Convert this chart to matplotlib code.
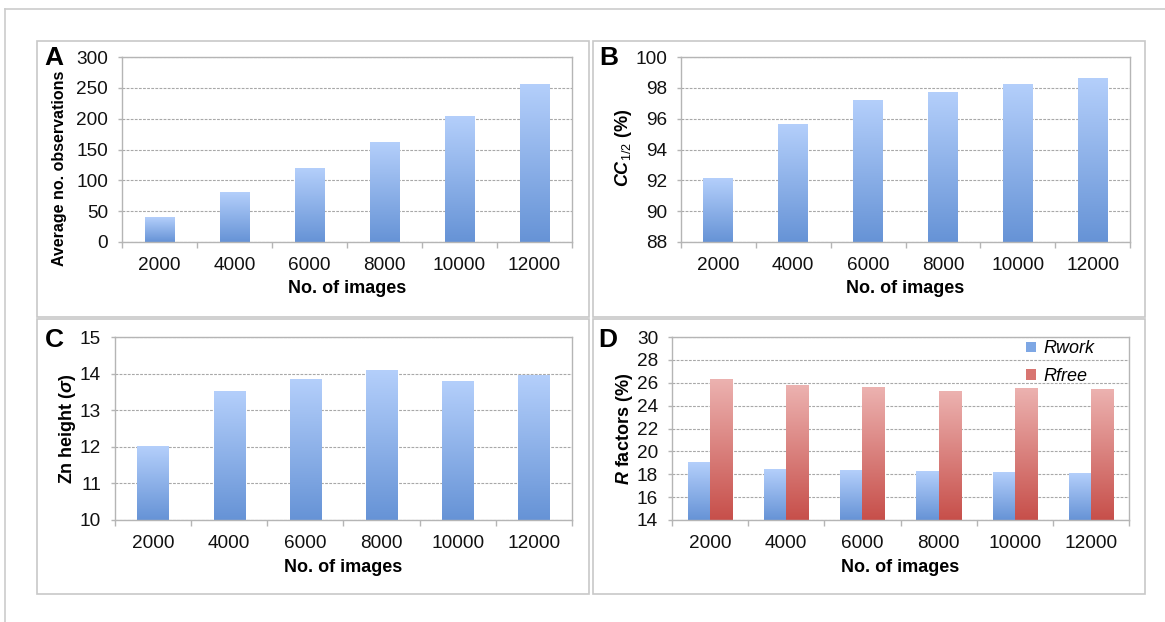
import numpy as np
import matplotlib
matplotlib.use("Agg")
import matplotlib.pyplot as plt
from matplotlib.colors import LinearSegmentedColormap
from matplotlib.patches import Rectangle
from matplotlib.lines import Line2D

plt.rcParams['font.family'] = ['Liberation Sans', 'DejaVu Sans']
plt.rcParams['mathtext.fontset'] = 'custom'
plt.rcParams['mathtext.rm'] = 'Liberation Sans'
plt.rcParams['mathtext.it'] = 'Liberation Sans:italic'
plt.rcParams['mathtext.bf'] = 'Liberation Sans:bold'
try:
    plt.rcParams['mathtext.bfit'] = 'Liberation Sans:bold:italic'
except Exception:
    pass

# ---------------- data ----------------
images = ['2000', '4000', '6000', '8000', '10000', '12000']
avg_observations = [40, 80, 120, 161, 203, 256]
cc_half = [92.1, 95.63, 97.2, 97.72, 98.22, 98.63]
zn_height = [12.0, 13.5, 13.85, 14.09, 13.79, 13.95]
r_work = [19.05, 18.45, 18.3, 18.2, 18.12, 18.1]
r_free = [26.3, 25.8, 25.6, 25.2, 25.5, 25.4]

W, H = 1165, 622
fig = plt.figure(figsize=(W / 100, H / 100), dpi=100)
fig.patch.set_facecolor('white')

BLUE_TOP, BLUE_BOT = '#b4cffb', '#6693d6'
RED_TOP, RED_BOT = '#ecb2b0', '#c74f4a'
GRID = '#a8a8a8'
SPINE = '#b5b5b5'
TICKFS = 13.7
LABFS = 13


def px_axes(x0, y0, x1, y1):
    return fig.add_axes([x0 / W, 1 - y1 / H, (x1 - x0) / W, (y1 - y0) / H])


def panel_box(x0, y0, x1, y1):
    fig.add_artist(Rectangle((x0 / W, 1 - y1 / H), (x1 - x0) / W, (y1 - y0) / H,
                             transform=fig.transFigure, fill=False,
                             edgecolor='#c8c8c8', linewidth=1.2))


def gradient_bars(ax, bars, top, bot):
    cmap = LinearSegmentedColormap.from_list('g', [bot, top])
    grad = np.linspace(0, 1, 256).reshape(-1, 1)
    for b in bars:
        x, y = b.get_x(), b.get_y()
        w, h = b.get_width(), b.get_height()
        ax.imshow(grad, extent=[x, x + w, y, y + h], origin='lower',
                  aspect='auto', cmap=cmap, zorder=2, interpolation='bilinear')
        b.set_facecolor('none')
        b.set_edgecolor('none')


def style_axes(ax, ymin, ymax, step, ylabel, ylab_x, xlab_y, ylab_y=0.5, ylab_fs=LABFS):
    n = len(images)
    ax.set_xlim(-0.5, n - 0.5)
    ax.set_ylim(ymin, ymax)
    ax.set_yticks(np.arange(ymin, ymax + step / 2, step))
    ax.set_xticks(np.arange(n))
    ax.set_xticklabels(images)
    ax.set_xticks(np.arange(-0.5, n, 1.0), minor=True)
    ax.tick_params(axis='x', which='major', length=0, pad=10.5,
                   labelsize=TICKFS, colors='#111111')
    ax.tick_params(axis='x', which='minor', length=4, width=1, color=SPINE,
                   direction='out')
    ax.tick_params(axis='y', which='major', length=3, width=1, color=SPINE,
                   direction='out', pad=7, labelsize=TICKFS, labelcolor='#111111')
    for s in ax.spines.values():
        s.set_color(SPINE)
        s.set_linewidth(1.0)
    ax.set_axisbelow(True)
    ax.yaxis.grid(True, linestyle=(0, (2.5, 1.2)), color=GRID, linewidth=0.8)
    ax.set_xlabel('No. of images', fontsize=LABFS, fontweight='bold', va='center')
    ax.xaxis.set_label_coords(0.5, xlab_y)
    ax.set_ylabel(ylabel, fontsize=ylab_fs, fontweight='bold', va='center')
    ax.yaxis.set_label_coords(ylab_x, ylab_y)


x = np.arange(len(images))

# Panel boxes
panel_box(37, 41, 589, 317)
panel_box(593, 41, 1145, 317)
panel_box(37, 319, 589, 594)
panel_box(593, 319, 1145, 594)

# outer frame lines
fig.add_artist(Line2D([5 / W, 1.0], [1 - 9 / H, 1 - 9 / H], transform=fig.transFigure,
                      color='#cccccc', linewidth=1.2))
fig.add_artist(Line2D([5 / W, 5 / W], [1 - 9 / H, 0.0], transform=fig.transFigure,
                      color='#cccccc', linewidth=1.2))

# ---- A ----
axA = px_axes(122, 57, 572, 242)
bA = axA.bar(x, avg_observations, width=0.4)
gradient_bars(axA, bA, BLUE_TOP, BLUE_BOT)
style_axes(axA, 0, 300, 50, 'Average no. observations', -0.138, -0.249,
           ylab_y=0.40, ylab_fs=11.5)

# ---- B ----
axB = px_axes(681, 57, 1130, 242)
yminB = 88
bB = axB.bar(x, np.array(cc_half) - yminB, bottom=yminB, width=0.4)
gradient_bars(axB, bB, BLUE_TOP, BLUE_BOT)
style_axes(axB, 88, 100, 2, r'$\mathbfit{CC}_{\mathit{1/2}}$ (%)', -0.127, -0.249,
           ylab_y=0.51)

# ---- C ----
axC = px_axes(115, 337, 572, 520)
yminC = 10
bC = axC.bar(x, np.array(zn_height) - yminC, bottom=yminC, width=0.41)
gradient_bars(axC, bC, BLUE_TOP, BLUE_BOT)
style_axes(axC, 10, 15, 1, r'Zn height ($\mathbfit{σ}$)', -0.105, -0.257)

# ---- D ----
axD = px_axes(672, 337, 1129, 520)
yminD = 14
bw = 0.29
bD1 = axD.bar(x - bw / 2, np.array(r_work) - yminD, bottom=yminD, width=bw,
              color=BLUE_BOT, label='Rwork')
bD2 = axD.bar(x + bw / 2, np.array(r_free) - yminD, bottom=yminD, width=bw,
              color=RED_BOT, label='Rfree')
style_axes(axD, 14, 30, 2, r'$\mathbfit{R}$ factors (%)', -0.105, -0.257)
handles = [Rectangle((0, 0), 1, 1, facecolor='#7ea7e4', edgecolor='none'),
           Rectangle((0, 0), 1, 1, facecolor='#d87571', edgecolor='none')]
leg = axD.legend(handles, ['Rwork', 'Rfree'], loc='upper right',
                 bbox_to_anchor=(0.96, 1.07), frameon=False,
                 prop={'style': 'italic', 'size': 13},
                 handlelength=0.55, handleheight=0.55, handletextpad=0.4,
                 labelspacing=0.6)
gradient_bars(axD, bD1, BLUE_TOP, BLUE_BOT)
gradient_bars(axD, bD2, RED_TOP, RED_BOT)
axD.set_xlim(-0.5, 5.5)
axD.set_ylim(14, 30)

# panel letters
for letter, (px, py) in zip('ABCD', [(44, 58), (599, 58), (45, 340), (598, 340)]):
    fig.text(px / W, 1 - py / H, letter, fontsize=19, fontweight='bold',
             ha='left', va='center', color='black')

fig.savefig('out.png', dpi=100, facecolor='white')
